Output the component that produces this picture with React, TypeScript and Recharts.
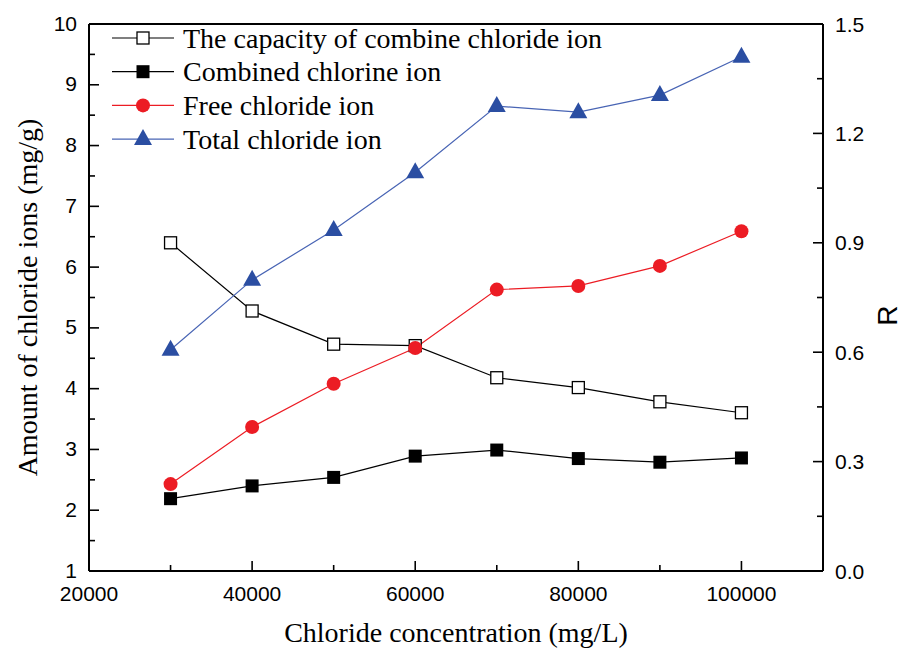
import { LineChart, Line, XAxis, YAxis, Legend, ReferenceLine, Label } from 'recharts';

const concentrations = [30000, 40000, 50000, 60000, 70000, 80000, 90000, 100000];
const capacityR = [0.9, 0.713, 0.622, 0.618, 0.53, 0.503, 0.464, 0.434];
const combinedIon = [2.19, 2.4, 2.54, 2.89, 2.99, 2.85, 2.79, 2.86];
const freeIon = [2.43, 3.37, 4.08, 4.67, 5.63, 5.69, 6.02, 6.59];
const totalIon = [4.64, 5.79, 6.61, 7.56, 8.65, 8.55, 8.83, 9.46];

const xTicks = [20000, 30000, 40000, 50000, 60000, 70000, 80000, 90000, 100000];
const leftTicks = [1, 1.5, 2, 2.5, 3, 3.5, 4, 4.5, 5, 5.5, 6, 6.5, 7, 7.5, 8, 8.5, 9, 9.5, 10];
const rightTicks = [0, 0.15, 0.3, 0.45, 0.6, 0.75, 0.9, 1.05, 1.2, 1.35, 1.5];

const data = concentrations.map((c, i) => ({
  c,
  capacity: capacityR[i],
  combined: combinedIon[i],
  free: freeIon[i],
  total: totalIon[i],
}));

const RED = '#ec1c24';
const BLUE_FILL = '#2b4ea2';
const BLUE_LINE = '#4864b4';
const SANS = '"Liberation Sans", Arial, sans-serif';
const SERIF = '"Liberation Serif", "Times New Roman", serif';

const HollowSquare = (p: any) => (
  <rect key={`hs-${p.index}`} x={p.cx - 6} y={p.cy - 6} width={12} height={12} fill="#fff" stroke="#000" strokeWidth={1.3} />
);
const FilledSquare = (p: any) => (
  <rect key={`fs-${p.index}`} x={p.cx - 6.5} y={p.cy - 6.5} width={13} height={13} fill="#000" />
);
const RedCircle = (p: any) => <circle key={`rc-${p.index}`} cx={p.cx} cy={p.cy} r={7} fill={RED} />;
const BlueTriangle = (p: any) => (
  <path
    key={`bt-${p.index}`}
    d={`M${p.cx},${p.cy - 10} L${p.cx + 9},${p.cy + 6} L${p.cx - 9},${p.cy + 6} Z`}
    fill={BLUE_FILL}
  />
);

const XTick = ({ x, y, payload }: any) => {
  const major = payload.value % 20000 === 0;
  return (
    <g>
      <line x1={x} x2={x} y1={y} y2={y - (major ? 10 : 6)} stroke="#000" strokeWidth={1.6} />
      {major && (
        <text x={x} y={y + 22} textAnchor="middle" dominantBaseline="central" fontSize={21} fontFamily={SANS} fill="#000">
          {payload.value}
        </text>
      )}
    </g>
  );
};

const LeftTick = ({ x, y, payload }: any) => {
  const major = Number.isInteger(payload.value);
  return (
    <g>
      <line x1={x} x2={x + (major ? 10 : 6)} y1={y} y2={y} stroke="#000" strokeWidth={1.6} />
      {major && (
        <text x={x - 12} y={y - 1} textAnchor="end" dominantBaseline="central" fontSize={21} fontFamily={SANS} fill="#000">
          {payload.value}
        </text>
      )}
    </g>
  );
};

const RightTick = ({ x, y, payload, index }: any) => {
  const major = index % 2 === 0;
  return (
    <g>
      <line x1={x} x2={x - (major ? 10 : 6)} y1={y} y2={y} stroke="#000" strokeWidth={1.6} />
      {major && (
        <text x={x + 12} y={y} textAnchor="start" dominantBaseline="central" fontSize={21} fontFamily={SANS} fill="#000">
          {Number(payload.value).toFixed(1)}
        </text>
      )}
    </g>
  );
};

const legendItems = [
  { name: 'The capacity of combine chloride ion', color: '#000', marker: 'hollow' },
  { name: 'Combined chlorine ion', color: '#000', marker: 'square' },
  { name: 'Free chloride ion', color: RED, marker: 'circle' },
  { name: 'Total chloride ion', color: BLUE_LINE, marker: 'triangle' },
];

const renderLegend = () => (
  <svg width={540} height={140}>
    {legendItems.map((item, i) => {
      const cy = 16 + i * 33.7;
      const cx = 39;
      let marker;
      if (item.marker === 'hollow') marker = <rect x={cx - 6} y={cy - 6} width={12} height={12} fill="#fff" stroke="#000" strokeWidth={1.3} />;
      else if (item.marker === 'square') marker = <rect x={cx - 6.5} y={cy - 6.5} width={13} height={13} fill="#000" />;
      else if (item.marker === 'circle') marker = <circle cx={cx} cy={cy} r={7} fill={RED} />;
      else marker = <path d={`M${cx},${cy - 10} L${cx + 9},${cy + 6} L${cx - 9},${cy + 6} Z`} fill={BLUE_FILL} />;
      return (
        <g key={item.name}>
          <line x1={8} x2={70} y1={cy} y2={cy} stroke={item.color} strokeWidth={1.2} />
          {marker}
          <text x={79} y={cy} dominantBaseline="central" fontSize={28} fontFamily={SERIF} fill="#000">
            {item.name}
          </text>
        </g>
      );
    })}
  </svg>
);

export default function App() {
  return (
    <div style={{ position: 'absolute', left: 0, top: 0, width: 901, height: 650, background: '#fff' }}>
      <LineChart width={901} height={650} data={data} margin={{ top: 24, right: 0, bottom: 0, left: 0 }}>
        <XAxis
          dataKey="c"
          type="number"
          domain={[20000, 110000]}
          ticks={xTicks}
          interval={0}
          height={79}
          tickSize={0}
          tickMargin={0}
          tick={<XTick />}
          axisLine={{ stroke: '#000', strokeWidth: 2 }}
          tickLine={false}
        >
          <Label
            content={({ viewBox }: any) => (
              <text
                x={viewBox.x + viewBox.width / 2}
                y={viewBox.y + 61}
                textAnchor="middle"
                dominantBaseline="central"
                fontSize={28}
                fontFamily={SERIF}
                fill="#000"
              >
                Chloride concentration (mg/L)
              </text>
            )}
          />
        </XAxis>
        <YAxis
          yAxisId="left"
          type="number"
          domain={[1, 10]}
          ticks={leftTicks}
          interval={0}
          width={89}
          tickSize={0}
          tickMargin={0}
          tick={<LeftTick />}
          axisLine={{ stroke: '#000', strokeWidth: 2 }}
          tickLine={false}
        >
          <Label
            content={({ viewBox }: any) => {
              const cx = viewBox.x + 27;
              const cy = viewBox.y + viewBox.height / 2;
              return (
                <text
                  x={cx}
                  y={cy}
                  transform={`rotate(-90 ${cx} ${cy})`}
                  textAnchor="middle"
                  dominantBaseline="central"
                  fontSize={28}
                  fontFamily={SERIF}
                  fill="#000"
                >
                  Amount of chloride ions (mg/g)
                </text>
              );
            }}
          />
        </YAxis>
        <YAxis
          yAxisId="right"
          orientation="right"
          type="number"
          domain={[0, 1.5]}
          ticks={rightTicks}
          interval={0}
          width={78}
          tickSize={0}
          tickMargin={0}
          tick={<RightTick />}
          axisLine={{ stroke: '#000', strokeWidth: 2 }}
          tickLine={false}
        >
          <Label
            content={({ viewBox }: any) => {
              const cx = viewBox.x + 64;
              const cy = viewBox.y + viewBox.height / 2 + 18;
              return (
                <text
                  x={cx}
                  y={cy}
                  transform={`rotate(-90 ${cx} ${cy})`}
                  textAnchor="middle"
                  dominantBaseline="central"
                  fontSize={28}
                  fontFamily={SANS}
                  fill="#000"
                >
                  R
                </text>
              );
            }}
          />
        </YAxis>
        <ReferenceLine yAxisId="left" y={10} stroke="#000" strokeWidth={2} />
        <Legend
          layout="vertical"
          align="center"
          verticalAlign="middle"
          wrapperStyle={{ left: 104, top: 22, width: 540, height: 140 }}
          content={renderLegend}
        />
        <Line
          yAxisId="right"
          dataKey="capacity"
          stroke="#000"
          strokeWidth={1.2}
          dot={HollowSquare}
          activeDot={false}
          isAnimationActive={false}
        />
        <Line
          yAxisId="left"
          dataKey="combined"
          stroke="#000"
          strokeWidth={1.2}
          dot={FilledSquare}
          activeDot={false}
          isAnimationActive={false}
        />
        <Line
          yAxisId="left"
          dataKey="free"
          stroke={RED}
          strokeWidth={1.2}
          dot={RedCircle}
          activeDot={false}
          isAnimationActive={false}
        />
        <Line
          yAxisId="left"
          dataKey="total"
          stroke={BLUE_LINE}
          strokeWidth={1.2}
          dot={BlueTriangle}
          activeDot={false}
          isAnimationActive={false}
        />
      </LineChart>
    </div>
  );
}
